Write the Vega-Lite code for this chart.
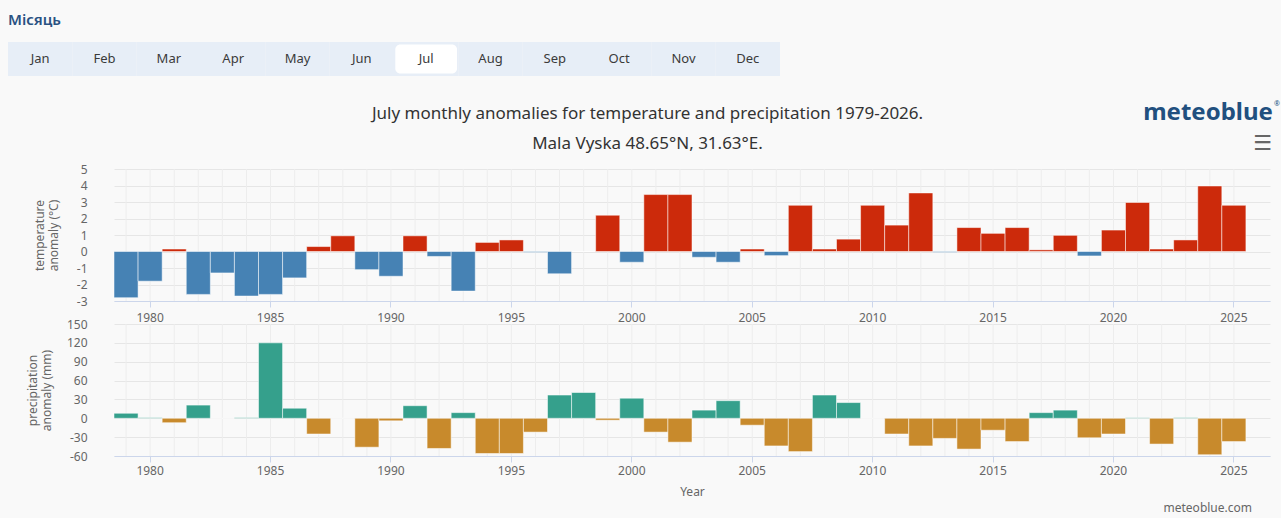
{
  "$schema": "https://vega.github.io/schema/vega-lite/v6.json",
  "background": "#f9f9f9",
  "padding": {"left": 8, "top": 13, "right": 4, "bottom": 4},
  "config": {
    "font": "Noto Sans",
    "view": {"stroke": null},
    "axis": {
      "labelColor": "#666666",
      "titleColor": "#666666",
      "labelFontSize": 12,
      "titleFontSize": 12,
      "titleFontWeight": "normal",
      "gridColor": "#e6e6e6",
      "domainColor": "#ccd6eb",
      "tickColor": "#ccd6eb"
    },
    "axisY": {"labelOverlap": false}
  },
  "datasets": {
    "months": [
      {"month": "Jan", "row": "m"}, {"month": "Feb", "row": "m"}, {"month": "Mar", "row": "m"},
      {"month": "Apr", "row": "m"}, {"month": "May", "row": "m"}, {"month": "Jun", "row": "m"},
      {"month": "Jul", "row": "m"}, {"month": "Aug", "row": "m"}, {"month": "Sep", "row": "m"},
      {"month": "Oct", "row": "m"}, {"month": "Nov", "row": "m"}, {"month": "Dec", "row": "m"}
    ],
    "anom": [
      {"year": 1979, "temp": -2.8, "precip": 8},
      {"year": 1980, "temp": -1.8, "precip": 1},
      {"year": 1981, "temp": 0.15, "precip": -7},
      {"year": 1982, "temp": -2.6, "precip": 21},
      {"year": 1983, "temp": -1.3, "precip": 0},
      {"year": 1984, "temp": -2.7, "precip": 1},
      {"year": 1985, "temp": -2.6, "precip": 120},
      {"year": 1986, "temp": -1.6, "precip": 16},
      {"year": 1987, "temp": 0.3, "precip": -25},
      {"year": 1988, "temp": 0.95, "precip": 0},
      {"year": 1989, "temp": -1.1, "precip": -46},
      {"year": 1990, "temp": -1.5, "precip": -4},
      {"year": 1991, "temp": 0.95, "precip": 20},
      {"year": 1992, "temp": -0.3, "precip": -48},
      {"year": 1993, "temp": -2.4, "precip": 9},
      {"year": 1994, "temp": 0.55, "precip": -56},
      {"year": 1995, "temp": 0.7, "precip": -56},
      {"year": 1996, "temp": -0.05, "precip": -22},
      {"year": 1997, "temp": -1.35, "precip": 37},
      {"year": 1998, "temp": 0, "precip": 41},
      {"year": 1999, "temp": 2.2, "precip": -3},
      {"year": 2000, "temp": -0.65, "precip": 32},
      {"year": 2001, "temp": 3.45, "precip": -22},
      {"year": 2002, "temp": 3.45, "precip": -38},
      {"year": 2003, "temp": -0.35, "precip": 13},
      {"year": 2004, "temp": -0.65, "precip": 28},
      {"year": 2005, "temp": 0.15, "precip": -11},
      {"year": 2006, "temp": -0.25, "precip": -44},
      {"year": 2007, "temp": 2.8, "precip": -53},
      {"year": 2008, "temp": 0.15, "precip": 37},
      {"year": 2009, "temp": 0.75, "precip": 25},
      {"year": 2010, "temp": 2.8, "precip": 0},
      {"year": 2011, "temp": 1.6, "precip": -25},
      {"year": 2012, "temp": 3.55, "precip": -44},
      {"year": 2013, "temp": -0.05, "precip": -32},
      {"year": 2014, "temp": 1.45, "precip": -49},
      {"year": 2015, "temp": 1.1, "precip": -19},
      {"year": 2016, "temp": 1.45, "precip": -37},
      {"year": 2017, "temp": 0.1, "precip": 9},
      {"year": 2018, "temp": 0.98, "precip": 13},
      {"year": 2019, "temp": -0.27, "precip": -31},
      {"year": 2020, "temp": 1.3, "precip": -25},
      {"year": 2021, "temp": 2.97, "precip": 1},
      {"year": 2022, "temp": 0.15, "precip": -41},
      {"year": 2023, "temp": 0.7, "precip": 1},
      {"year": 2024, "temp": 3.97, "precip": -58},
      {"year": 2025, "temp": 2.8, "precip": -37}
    ]
  },
  "spacing": 24,
  "vconcat": [
    {
      "width": 772,
      "height": 34,
      "data": {"name": "months"},
      "title": {"text": "Місяць", "anchor": "start", "frame": "bounds", "fontSize": 15, "fontWeight": 600, "color": "#2a5282", "offset": 14},
      "encoding": {
        "x": {"field": "month", "type": "nominal", "axis": null,
              "scale": {"type": "band", "domain": ["Jan","Feb","Mar","Apr","May","Jun","Jul","Aug","Sep","Oct","Nov","Dec"], "range": [-106, 666], "paddingInner": 0, "paddingOuter": 0}},
        "y": {"field": "row", "type": "nominal", "axis": null,
              "scale": {"type": "band", "paddingInner": 0, "paddingOuter": 0}}
      },
      "layer": [
        {
          "mark": {"type": "rect", "color": "#e7eef7"}
        },
        {
          "transform": [{"filter": "datum.month === 'Jul'"}],
          "mark": {"type": "bar", "color": "#ffffff", "cornerRadius": 5, "width": {"band": 0.96}, "height": {"band": 0.86}}
        },
        {
          "mark": {"type": "text", "fontSize": 13, "color": "#3a3a3a", "baseline": "middle"},
          "encoding": {"text": {"field": "month"}}
        }
      ]
    },
    {
      "bounds": "flush",
      "spacing": 23,
      "vconcat": [
        {
          "width": 1156,
          "height": 132,
          "data": {"name": "anom"},
          "title": {
            "text": "July monthly anomalies for temperature and precipitation 1979-2026.",
            "subtitle": "Mala Vyska 48.65°N, 31.63°E.",
            "anchor": "middle", "frame": "bounds",
            "fontSize": 17, "fontWeight": "normal", "color": "#333333",
            "subtitleFontSize": 17, "subtitleColor": "#333333", "subtitlePadding": 13,
            "offset": -53, "dx": -9
          },
          "encoding": {
            "x": {
              "field": "year", "type": "ordinal",
              "scale": {
                "domain": [1979,1980,1981,1982,1983,1984,1985,1986,1987,1988,1989,1990,1991,1992,1993,1994,1995,1996,1997,1998,1999,2000,2001,2002,2003,2004,2005,2006,2007,2008,2009,2010,2011,2012,2013,2014,2015,2016,2017,2018,2019,2020,2021,2022,2023,2024,2025,2026],
                "paddingInner": 0, "paddingOuter": 0
              },
              "axis": {"values": [1980,1985,1990,1995,2000,2005,2010,2015,2020,2025], "title": null, "labelAngle": 0, "grid": false, "tickSize": 6, "labelPadding": 5}
            }
          },
          "layer": [
            {"mark": {"type": "rule", "color": "#ededed", "strokeWidth": 1}, "encoding": {}},
            {
              "mark": {"type": "bar", "stroke": "#ffffff", "strokeOpacity": 0.5, "strokeWidth": 1},
              "encoding": {
                "y": {
                  "field": "temp", "type": "quantitative",
                  "scale": {"domain": [-3, 5], "nice": false},
                  "axis": {
                    "values": [-3,-2,-1,0,1,2,3,4,5],
                    "labelExpr": "'' + datum.value",
                    "labelOverlap": false,
                    "title": ["temperature", "anomaly (°C)"],
                    "titleLineHeight": 14,
                    "ticks": false, "domain": false,
                    "labelPadding": 27, "titlePadding": 16
                  }
                },
                "color": {"condition": {"test": "datum.temp < 0", "value": "#4682b4"}, "value": "#cc2a0b"}
              }
            },
            {
              "data": {"values": [{"logo": "meteoblue"}]},
              "mark": {"type": "text", "fontSize": 24, "fontWeight": "bold", "color": "#21507f", "align": "right", "baseline": "middle", "dx": 15},
              "encoding": {
                "x": {"datum": 2026},
                "y": {"datum": 8.39, "type": "quantitative", "axis": {"values": [-3,-2,-1,0,1,2,3,4,5], "labelExpr": "'' + datum.value", "labelOverlap": false, "title": ["temperature", "anomaly (°C)"], "titleLineHeight": 14, "ticks": false, "domain": false, "labelPadding": 27, "titlePadding": 16}},
                "text": {"field": "logo"}
              }
            },
            {
              "data": {"values": [{"mark": "®"}]},
              "mark": {"type": "text", "fontSize": 7, "color": "#21507f", "align": "left", "baseline": "middle", "dx": 16, "dy": -9},
              "encoding": {
                "x": {"datum": 2026},
                "y": {"datum": 8.39, "type": "quantitative", "axis": {"values": [-3,-2,-1,0,1,2,3,4,5], "labelExpr": "'' + datum.value", "labelOverlap": false, "title": ["temperature", "anomaly (°C)"], "titleLineHeight": 14, "ticks": false, "domain": false, "labelPadding": 27, "titlePadding": 16}},
                "text": {"field": "mark"}
              }
            },
            {
              "data": {"values": [{"icon": "☰"}]},
              "mark": {"type": "text", "font": "DejaVu Sans", "fontSize": 21, "fontWeight": "bold", "color": "#666666", "align": "right", "baseline": "middle", "dx": 14},
              "encoding": {
                "x": {"datum": 2026},
                "y": {"datum": 6.5, "type": "quantitative", "axis": {"values": [-3,-2,-1,0,1,2,3,4,5], "labelExpr": "'' + datum.value", "labelOverlap": false, "title": ["temperature", "anomaly (°C)"], "titleLineHeight": 14, "ticks": false, "domain": false, "labelPadding": 27, "titlePadding": 16}},
                "text": {"field": "icon"}
              }
            }
          ]
        },
        {
          "width": 1156,
          "height": 132,
          "data": {"name": "anom"},
          "title": {"text": "meteoblue.com", "orient": "bottom", "anchor": "end", "frame": "group", "fontSize": 12, "fontWeight": "normal", "color": "#666666", "offset": 6, "dx": -18},
          "encoding": {
            "x": {
              "field": "year", "type": "ordinal",
              "scale": {
                "domain": [1979,1980,1981,1982,1983,1984,1985,1986,1987,1988,1989,1990,1991,1992,1993,1994,1995,1996,1997,1998,1999,2000,2001,2002,2003,2004,2005,2006,2007,2008,2009,2010,2011,2012,2013,2014,2015,2016,2017,2018,2019,2020,2021,2022,2023,2024,2025,2026],
                "paddingInner": 0, "paddingOuter": 0
              },
              "axis": {"values": [1980,1985,1990,1995,2000,2005,2010,2015,2020,2025], "title": "Year", "titlePadding": 10, "labelAngle": 0, "grid": false, "tickSize": 6, "labelPadding": 3}
            }
          },
          "layer": [
            {"mark": {"type": "rule", "color": "#ededed", "strokeWidth": 1}, "encoding": {}},
            {
              "mark": {"type": "bar", "stroke": "#ffffff", "strokeOpacity": 0.5, "strokeWidth": 1},
              "encoding": {
                "y": {
                  "field": "precip", "type": "quantitative",
                  "scale": {"domain": [-60, 150], "nice": false},
                  "axis": {
                    "values": [-60,-30,0,30,60,90,120,150],
                    "labelExpr": "'' + datum.value",
                    "labelOverlap": false,
                    "title": ["precipitation", "anomaly (mm)"],
                    "titleLineHeight": 14,
                    "ticks": false, "domain": false,
                    "labelPadding": 27, "titlePadding": 13
                  }
                },
                "color": {"condition": {"test": "datum.precip < 0", "value": "#c88a2c"}, "value": "#35a08c"}
              }
            }
          ]
        }
      ]
    }
  ]
}
